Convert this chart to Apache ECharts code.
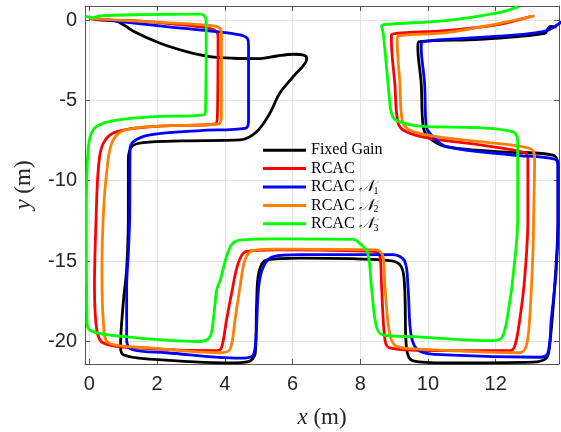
<!DOCTYPE html>
<html>
<head>
<meta charset="utf-8">
<script src="https://cdn.jsdelivr.net/npm/echarts@6/dist/echarts.min.js"></script>
<style>
  html, body { margin: 0; padding: 0; background: #fff; }
  #chart { width: 561px; height: 432px; }
</style>
</head>
<body>
<div id="chart"></div>
<script>
// tick labels
var xTicks = [0, 2, 4, 6, 8, 10, 12];
var yTicks = [-20, -15, -10, -5, 0];

var seriesNames = ['Fixed Gain', 'RCAC', 'RCAC N1', 'RCAC N2', 'RCAC N3'];

// trajectories (x, y in m)
var fixedGainX = [0.05, 0.5, 0.85, 1.3, 2.09, 2.87, 3.56, 4.25, 5.04, 5.53, 6.02, 6.35, 6.42, 6.02, 5.62, 5.33, 4.94, 4.45, 2.77, 1.59, 1.25, 1.15, 1.15, 1.1, 1.0, 0.92, 1.0, 1.79, 4.15, 4.7, 4.9, 4.94, 5.0, 5.24, 6.22, 8.87, 9.21, 9.31, 9.36, 9.56, 10.54, 13.1, 13.49, 13.59, 13.74, 13.84, 13.84, 13.69, 12.02, 10.54, 10.05, 9.86, 9.8, 9.7, 9.75, 11.53, 13.45, 13.55, 13.62, 13.8];
var fixedGainY = [0.1, 0.02, -0.1, -0.7, -1.45, -1.97, -2.28, -2.38, -2.4, -2.24, -2.13, -2.2, -2.4, -3.53, -4.56, -5.8, -6.95, -7.46, -7.52, -7.63, -7.88, -8.7, -12.2, -15.5, -17.6, -20.3, -20.83, -21.1, -21.33, -21.25, -20.73, -17.6, -15.76, -14.93, -14.82, -14.97, -15.34, -16.6, -20.3, -21.2, -21.33, -21.28, -21.04, -20.3, -16.6, -12.4, -9.0, -8.4, -8.19, -7.88, -7.36, -6.64, -3.94, -1.66, -1.35, -1.2, -0.83, -0.5, -0.4, -0.45];

var rcacX = [0.0, 0.3, 1.3, 2.5, 3.5, 3.76, 3.8, 3.78, 3.71, 2.09, 0.81, 0.41, 0.27, 0.2, 0.15, 0.22, 0.41, 1.3, 3.76, 3.9, 4.05, 4.2, 4.4, 4.64, 5.5, 8.38, 8.58, 8.63, 8.73, 8.87, 10.05, 12.41, 12.56, 12.71, 12.86, 12.95, 12.95, 12.86, 11.53, 10.05, 9.36, 9.12, 9.02, 8.92, 8.92, 9.07, 10.54, 12.02, 13.05];
var rcacY = [0.1, 0.0, -0.04, -0.25, -0.5, -0.73, -1.1, -6.0, -6.47, -6.6, -6.95, -7.67, -9.1, -12.2, -16.6, -19.3, -20.1, -20.4, -20.57, -20.4, -18.66, -17.0, -15.1, -14.4, -14.3, -14.4, -14.7, -16.6, -19.9, -20.4, -20.57, -20.57, -20.3, -18.66, -15.96, -12.4, -8.6, -8.25, -7.77, -7.36, -6.95, -6.43, -3.94, -1.24, -0.93, -0.83, -0.66, -0.31, 0.22];

var rcacN1X = [0.0, 0.5, 2.28, 3.76, 4.45, 4.68, 4.7, 4.7, 4.6, 3.27, 1.79, 1.3, 1.2, 1.19, 1.15, 1.1, 1.1, 1.25, 2.28, 4.45, 4.79, 4.9, 5.0, 5.14, 5.43, 6.2, 8.97, 9.31, 9.41, 9.51, 9.76, 10.54, 13.29, 13.54, 13.64, 13.79, 13.84, 13.84, 13.74, 12.5, 10.54, 10.15, 9.95, 9.9, 9.8, 9.85, 11.53, 13.4, 13.95];
var rcacN1Y = [0.1, 0.0, -0.41, -0.73, -0.93, -1.2, -1.6, -6.3, -6.74, -6.88, -7.15, -7.57, -8.08, -12.2, -14.5, -16.6, -19.9, -20.5, -20.7, -21.04, -20.94, -20.3, -16.6, -15.34, -14.72, -14.6, -14.6, -15.0, -16.6, -19.7, -20.6, -20.83, -20.98, -20.73, -18.66, -15.55, -12.4, -9.1, -8.66, -8.4, -7.88, -7.26, -6.64, -3.94, -1.66, -1.35, -1.08, -0.73, -0.1];

var rcacN2X = [0.0, 0.3, 2.28, 3.66, 3.88, 3.9, 3.9, 3.8, 2.09, 1.0, 0.66, 0.51, 0.41, 0.37, 0.41, 0.57, 1.79, 3.86, 4.15, 4.3, 4.45, 4.6, 4.84, 5.5, 8.48, 8.67, 8.73, 8.87, 9.07, 10.05, 12.71, 12.9, 13.0, 13.1, 13.12, 13.15, 13.0, 11.53, 10.25, 9.46, 9.24, 9.17, 9.09, 9.12, 10.54, 12.02, 13.15];
var rcacN2Y = [0.1, 0.05, -0.17, -0.37, -0.6, -1.0, -6.1, -6.47, -6.6, -6.88, -7.67, -9.5, -12.2, -15.5, -18.66, -20.1, -20.4, -20.7, -20.5, -18.66, -16.6, -14.9, -14.35, -14.26, -14.3, -14.72, -16.6, -19.5, -20.3, -20.5, -20.7, -20.3, -18.66, -14.5, -12.4, -8.5, -7.98, -7.57, -7.26, -6.84, -6.22, -3.94, -1.24, -1.0, -0.79, -0.25, 0.25];

var rcacN3X = [-0.12, 0.1, 0.3, 1.5, 3.27, 3.42, 3.45, 3.43, 3.38, 1.8, 0.61, 0.12, -0.04, -0.09, -0.07, 0.02, 0.61, 3.27, 3.56, 3.67, 3.76, 3.86, 4.16, 4.45, 5.5, 7.8, 7.99, 8.22, 8.33, 8.48, 8.68, 9.56, 11.9, 12.2, 12.41, 12.5, 12.65, 12.65, 12.5, 11.5, 9.76, 9.08, 8.92, 8.82, 8.68, 8.63, 8.78, 10.54, 12.02, 12.68];
var rcacN3Y = [0.22, 0.15, 0.25, 0.33, 0.37, 0.2, -0.2, -5.6, -5.9, -6.03, -6.3, -6.8, -8.1, -12.2, -18.8, -19.3, -19.6, -20.0, -19.7, -18.45, -16.8, -16.2, -14.1, -13.7, -13.62, -13.65, -13.9, -14.5, -16.6, -19.1, -19.6, -19.7, -19.95, -19.7, -17.6, -16.2, -12.4, -7.46, -6.95, -6.7, -6.6, -6.26, -5.8, -3.94, -0.83, -0.37, -0.27, -0.04, 0.42, 0.83];

var colors = ['#000000', '#ff0000', '#0000ff', '#ff8000', '#00ff00'];

function zip(xs, ys) {
  return xs.map(function (x, i) { return [x, ys[i]]; });
}

var tracks = [
  zip(fixedGainX, fixedGainY),
  zip(rcacX, rcacY),
  zip(rcacN1X, rcacN1Y),
  zip(rcacN2X, rcacN2Y),
  zip(rcacN3X, rcacN3Y)
];

var chart = echarts.init(document.getElementById('chart'), null, { renderer: 'canvas' });

var serif = '"Liberation Serif", "DejaVu Serif", serif';
var sans = '"Liberation Sans", Arial, sans-serif';
var axisColor = '#555555';
var xMin = -0.13, xMax = 13.87, yMin = -21.4, yMax = 0.87;

function boxAxis(pos, min, max, ticks) {
  return {
    type: 'value', position: pos, min: min, max: max,
    axisLine: { show: true, onZero: false, lineStyle: { color: axisColor, width: 1 } },
    axisTick: { show: true, inside: true, length: 5, customValues: ticks, lineStyle: { color: axisColor } },
    axisLabel: { show: false, customValues: ticks },
    splitLine: { show: false }
  };
}

var option = {
  animation: false,
  color: colors,
  grid: { left: 85, right: 2, top: 6, bottom: 68, containLabel: false, outerBoundsMode: 'none' },
  legend: {
    orient: 'vertical',
    left: 263,
    top: 141,
    padding: 0,
    icon: 'rect',
    itemWidth: 43,
    itemHeight: 3,
    itemGap: 0,
    data: seriesNames,
    textStyle: {
      fontFamily: serif, fontSize: 16, color: '#000', lineHeight: 18.4,
      rich: {
        n: { fontFamily: serif, fontStyle: 'italic', fontSize: 16, lineHeight: 18.4 },
        s: { fontFamily: serif, fontSize: 10, lineHeight: 18.4, verticalAlign: 'bottom', padding: [6, 0, 0, 0] }
      }
    },
    formatter: function (name) {
      var m = name.match(/^RCAC N(\d)$/);
      if (m) return 'RCAC {n|\uD835\uDCA9}{s|' + m[1] + '}';
      return name;
    }
  },
  xAxis: [
    {
      type: 'value', position: 'bottom', min: xMin, max: xMax,
      name: '{i|x} (m)',
      nameLocation: 'middle',
      nameGap: 42,
      nameTextStyle: {
        fontFamily: serif, fontSize: 23, color: '#262626',
        rich: { i: { fontFamily: serif, fontStyle: 'italic', fontSize: 23 } }
      },
      axisLine: { show: true, onZero: false, lineStyle: { color: axisColor, width: 1 } },
      axisTick: { show: true, inside: true, length: 5, customValues: xTicks, lineStyle: { color: axisColor } },
      axisLabel: { customValues: xTicks, fontFamily: sans, fontSize: 20, color: '#262626', margin: 10 },
      splitLine: { show: true, lineStyle: { color: '#e3e3e3', width: 1 } }
    },
    boxAxis('top', xMin, xMax, xTicks)
  ],
  yAxis: [
    {
      type: 'value', position: 'left', min: yMin, max: yMax,
      name: '{i|y} (m)',
      nameLocation: 'middle',
      nameGap: 50,
      nameRotate: 90,
      nameTextStyle: {
        fontFamily: serif, fontSize: 23, color: '#262626',
        rich: { i: { fontFamily: serif, fontStyle: 'italic', fontSize: 23 } }
      },
      axisLine: { show: true, onZero: false, lineStyle: { color: axisColor, width: 1 } },
      axisTick: { show: true, inside: true, length: 5, customValues: yTicks, lineStyle: { color: axisColor } },
      axisLabel: { customValues: yTicks, fontFamily: sans, fontSize: 20, color: '#262626', margin: 8 },
      splitLine: { show: true, lineStyle: { color: '#e3e3e3', width: 1 } }
    },
    boxAxis('right', yMin, yMax, yTicks)
  ],
  series: tracks.map(function (d, i) {
    return {
      name: seriesNames[i],
      type: 'line',
      xAxisIndex: 0,
      yAxisIndex: 0,
      data: d,
      symbol: 'none',
      smooth: 0.35,
      clip: true,
      lineStyle: { color: colors[i], width: 2.8 },
      z: 2 + i
    };
  })
};

chart.setOption(option);
</script>
</body>
</html>
